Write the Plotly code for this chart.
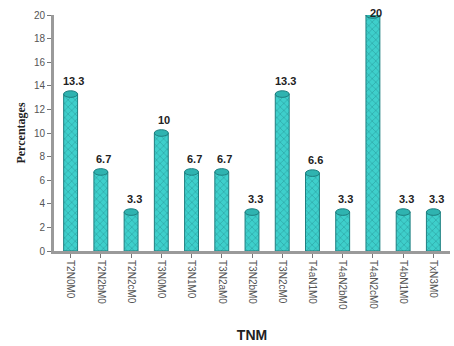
import plotly.graph_objects as go

# TNM stage distribution
stages = ["T2N0M0", "T2N2bM0", "T2N2cM0", "T3N0M0", "T3N1M0", "T3N2aM0", "T3N2bM0",
          "T3N2cM0", "T4aN1M0", "T4aN2bM0", "T4aN2cM0", "T4bN1M0", "TxN3M0"]
percentages = [13.3, 6.7, 3.3, 10, 6.7, 6.7, 3.3, 13.3, 6.6, 3.3, 20, 3.3, 3.3]
y_ticks = [0, 2, 4, 6, 8, 10, 12, 14, 16, 18, 20]
y_max = 20

bar_color = "#3ECFCB"
dark_teal = "#1E7F80"
half_w = 0.23

fig = go.Figure()
fig.add_trace(go.Bar(
    x=list(range(len(stages))), y=percentages,
    width=2 * half_w,
    marker=dict(color=bar_color, line=dict(color=dark_teal, width=1),
                pattern=dict(shape="x", fgcolor=dark_teal, size=5, solidity=0.25)),
))

# cylinder caps and value labels (a label at the axis ceiling sits on its cap)
shapes = []
annotations = []
for i, v in enumerate(percentages):
    shapes.append(dict(type="circle", xref="x", yref="y",
                       x0=i - half_w, x1=i + half_w, y0=v - 0.28, y1=v + 0.28,
                       fillcolor="#2FB3B0", line=dict(color=dark_teal, width=1)))
    annotations.append(dict(x=i + 0.1, y=v, xref="x", yref="y", text=f"<b>{v:g}</b>",
                            showarrow=False, yanchor="bottom",
                            yshift=5 if v < y_max else -6,
                            font=dict(family="Liberation Sans Narrow, Liberation Sans",
                                      size=11, color="#222222")))

fig.update_layout(
    width=454, height=346,
    margin=dict(l=54, r=4, t=15, b=90),
    paper_bgcolor="white", plot_bgcolor="white",
    showlegend=False,
    shapes=shapes,
    annotations=annotations,
    font=dict(family="Liberation Sans", color="#444444"),
    xaxis=dict(
        tickmode="array", tickvals=list(range(len(stages))), ticktext=stages,
        tickangle=90, tickfont=dict(size=10, color="#555555"),
        range=[-0.55, len(stages) - 0.45],
        showline=True, linecolor="#9A9A9A", linewidth=3,
        ticks="outside", ticklen=4, tickcolor="#777777", tickson="boundaries",
        title=dict(text="<b>TNM</b>", font=dict(size=14, color="#222222"), standoff=22),
    ),
    yaxis=dict(
        range=[0, y_max], tickvals=y_ticks,
        tickfont=dict(size=10, color="#555555", family="Liberation Sans"),
        tickprefix="<b>", ticksuffix="</b>",
        showgrid=False, zeroline=False,
        showline=True, linecolor="#9A9A9A", linewidth=3,
        ticks="outside", ticklen=4, tickcolor="#777777",
        title=dict(text="<b>Percentages</b>",
                   font=dict(family="Liberation Serif", size=12, color="#222222"), standoff=6),
    ),
)

fig.write_html("out.html")
